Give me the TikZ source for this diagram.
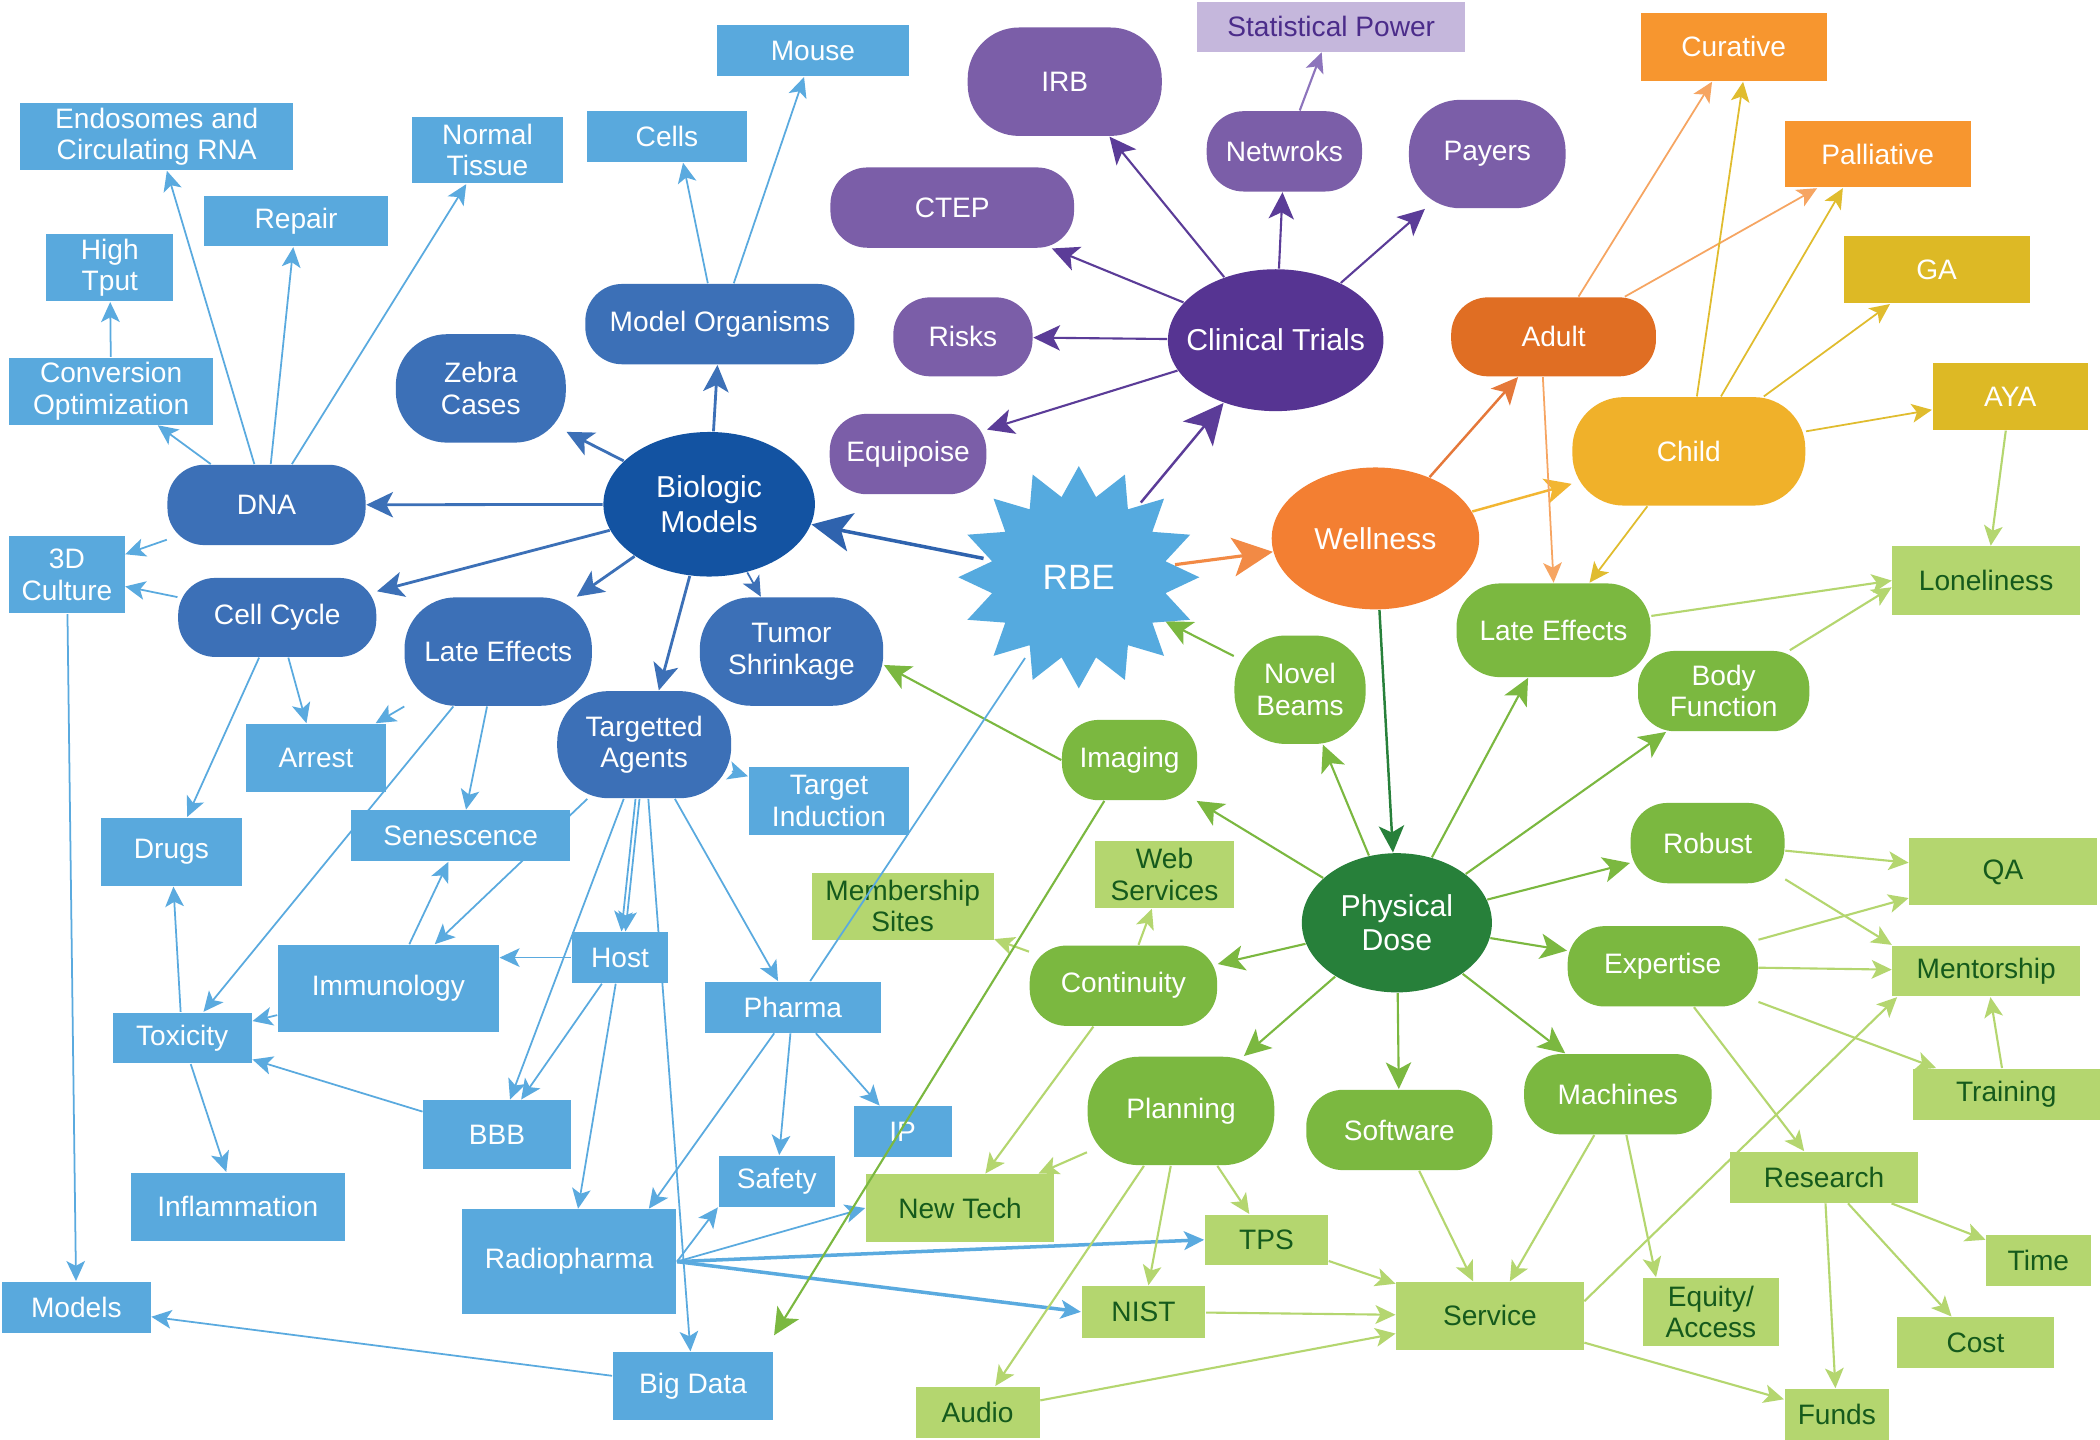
\documentclass[tikz,border=0pt]{standalone}
\usepackage{fontspec}
\setmainfont{Liberation Sans}
\usetikzlibrary{shapes.geometric, arrows.meta, calc}
\pgfdeclarelayer{bg}
\pgfsetlayers{bg,main}
\definecolor{lbfill}{HTML}{59A9DD}
\definecolor{lbline}{HTML}{5AAADF}
\definecolor{dbfill}{HTML}{3C70B7}
\definecolor{bmfill}{HTML}{1353A2}
\definecolor{dbline}{HTML}{3C70B7}
\definecolor{rbeline}{HTML}{2F63AE}
\definecolor{pufill}{HTML}{7B5EA8}
\definecolor{ctfill}{HTML}{563492}
\definecolor{puline}{HTML}{5B3C98}
\definecolor{spfill}{HTML}{C5B7DC}
\definecolor{sptext}{HTML}{4B2C8A}
\definecolor{spline}{HTML}{8D74BC}
\definecolor{wellfill}{HTML}{F37F32}
\definecolor{adultfill}{HTML}{E06E23}
\definecolor{childfill}{HTML}{F0B12A}
\definecolor{curfill}{HTML}{F7962F}
\definecolor{gafill}{HTML}{DDB925}
\definecolor{orline}{HTML}{F28A45}
\definecolor{wadline}{HTML}{E5783A}
\definecolor{adline}{HTML}{F6A562}
\definecolor{wchline}{HTML}{F2B632}
\definecolor{chline}{HTML}{E0BC2E}
\definecolor{grfill}{HTML}{7BB840}
\definecolor{pdfill}{HTML}{27803A}
\definecolor{grline}{HTML}{7BB840}
\definecolor{lgfill}{HTML}{B4D66F}
\definecolor{lgtext}{HTML}{155A1C}
\definecolor{lgline}{HTML}{B4D66F}
\definecolor{rbefill}{HTML}{55AADF}
\tikzset{
  sz/.style 2 args={minimum width=#1*0.381pt, minimum height=#2*0.381pt},
  nb/.style={inner sep=0pt, align=center, text=white, font=\fontsize{8}{9}\selectfont},
  rsix/.style={rounded corners=10.5pt},
  rseven/.style={rounded corners=12.4pt},
  reight/.style={rounded corners=14.6pt},
  lb/.style={nb, rectangle, fill=lbfill},
  db/.style={nb, rectangle, fill=dbfill, rsix},
  pu/.style={nb, rectangle, fill=pufill, rsix},
  gr/.style={nb, rectangle, fill=grfill, rsix},
  lg/.style={nb, rectangle, fill=lgfill, text=lgtext},
  orbox/.style={nb, rectangle},
  ell/.style={nb, ellipse, font=\fontsize{8.6}{9.8}\selectfont},
  tipS/.style={-{Stealth[length=5.7pt,width=5.3pt,inset=1.4pt]}},
  tipM/.style={-{Stealth[length=7.6pt,width=7.2pt,inset=1.9pt]}},
  tipL/.style={-{Stealth[length=11.4pt,width=11pt,inset=2.8pt]}},
  elb/.style={draw=lbline, line width=0.5pt, tipS},
  edb/.style={draw=dbline, line width=0.8pt, tipM},
  epu/.style={draw=puline, line width=0.6pt, tipM},
  egr/.style={draw=grline, line width=0.6pt, tipM},
  elg/.style={draw=lgline, line width=0.6pt, tipS},
  eyl/.style={draw=chline, line width=0.5pt, tipS},
  eor/.style={draw=adline, line width=0.5pt, tipS},
}
\begin{document}
\begin{tikzpicture}[x=0.013393cm, y=-0.013393cm]
\useasboundingbox (0,0) rectangle (1568,1075);
% ---------- RBE star ----------
\fill[rbefill, shift={(805.5,431)}] (0:90 and 83)
  \foreach \a in {0,22.5,...,337.5} { -- (\a:90 and 83) -- ({\a+11.25}:66 and 61) } -- cycle;
\node[nb, circle, minimum size=144*0.381pt, font=\fontsize{10}{12}\selectfont] (rbe) at (805.5,431) {RBE};
% ---------- light blue boxes ----------
\node[lb, sz={204}{50}] (endo) at (117,102) {Endosomes and\\Circulating RNA};
\node[lb, sz={113}{50}] (normal) at (364,112) {Normal\\Tissue};
\node[lb, sz={120}{38}] (cells) at (498,102) {Cells};
\node[lb, sz={144}{38}] (mouse) at (607,38) {Mouse};
\node[lb, sz={137}{38}] (repair) at (221,165) {Repair};
\node[lb, sz={95}{50}] (high) at (82,200) {High\\Tput};
\node[lb, sz={152}{50}] (conv) at (83,292) {Conversion\\Optimization};
\node[lb, sz={86}{58}] (culture) at (50,429) {3D\\Culture};
\node[lb, sz={105}{51}] (arrest) at (236,566) {Arrest};
\node[lb, sz={105}{51}] (drugs) at (128,636) {Drugs};
\node[lb, sz={164}{38}] (senes) at (344,624) {Senescence};
\node[lb, sz={165}{65}] (immuno) at (290,738) {Immunology};
\node[lb, sz={72}{38}] (host) at (463,715) {Host};
\node[lb, sz={104}{38}] (toxic) at (136,775) {Toxicity};
\node[lb, sz={120}{51}] (target) at (619,598) {Target\\Induction};
\node[lb, sz={132}{38}] (pharma) at (592,752) {Pharma};
\node[lb, sz={110}{51}] (bbb) at (371,847) {BBB};
\node[lb, sz={73}{38}] (ip) at (674,845) {IP};
\node[lb, sz={87}{38}] (safety) at (580,882) {Safety};
\node[lb, sz={160}{51}] (inflam) at (177.5,901) {Inflammation};
\node[lb, sz={160}{78}] (radio) at (425,942) {Radiopharma};
\node[lb, sz={111}{38}] (models) at (57,976) {Models};
\node[lb, sz={120}{51}] (bigdata) at (517.5,1035) {Big Data};
% ---------- dark blue ----------
\node[db, sz={148}{60}] (dna) at (199,377) {DNA};
\node[db, reight, sz={127}{81}] (zebra) at (359,290) {Zebra\\Cases};
\node[db, sz={201}{60}] (modorg) at (537.5,242) {Model Organisms};
\node[db, sz={148}{59}] (cellcyc) at (207,461) {Cell Cycle};
\node[db, reight, sz={140}{81}] (lateb) at (372,486.5) {Late Effects};
\node[db, reight, sz={130}{80}] (tagents) at (481,556) {Targetted\\Agents};
\node[db, reight, sz={137}{81}] (tumor) at (591,486.5) {Tumor\\Shrinkage};
\node[ell, fill=bmfill, sz={158}{108}] (biom) at (529.5,376.5) {Biologic\\Models};
% ---------- purple ----------
\node[pu, reight, sz={145}{81}] (irb) at (795,61) {IRB};
\node[pu, sz={182}{60}] (ctep) at (711,155) {CTEP};
\node[pu, sz={116}{60}] (netw) at (959,113) {Netwroks};
\node[pu, sz={104}{59}] (risks) at (719,251.5) {Risks};
\node[pu, sz={117}{60}] (equip) at (678,339) {Equipoise};
\node[pu, reight, sz={117}{81}] (payers) at (1110.5,115) {Payers};
\node[nb, rectangle, fill=spfill, text=sptext, sz={200}{37}] (stat) at (994,20) {Statistical Power};
\node[ell, fill=ctfill, sz={161}{106}] (clin) at (952.5,254) {\makebox[0pt]{Clinical Trials}};
% ---------- orange / yellow ----------
\node[ell, fill=wellfill, sz={155}{106}] (well) at (1027,402) {Wellness};
\node[nb, rectangle, rsix, fill=adultfill, sz={153}{59}] (adult) at (1160,251.5) {Adult};
\node[nb, rectangle, reight, fill=childfill, sz={174}{81}] (child) at (1261,337) {Child};
\node[orbox, fill=curfill, sz={139}{51}] (cur) at (1294.5,35) {Curative};
\node[orbox, fill=curfill, sz={139}{50}] (pall) at (1402,115) {Palliative};
\node[orbox, fill=gafill, sz={139}{50}] (ga) at (1446,201.5) {GA};
\node[orbox, fill=gafill, sz={116}{50}] (aya) at (1501,296) {AYA};
% ---------- green ----------
\node[gr, rseven, sz={145}{70}] (lateg) at (1160,470.6) {Late Effects};
\node[gr, sz={128}{60}] (body) at (1287,516) {Body\\Function};
\node[gr, sz={115}{60}] (robust) at (1275,629.5) {Robust};
\node[gr, sz={142}{60}] (expert) at (1241.5,721.5) {Expertise};
\node[gr, sz={140}{60}] (mach) at (1208,817) {Machines};
\node[gr, reight, sz={98}{81}] (novel) at (970.7,515) {Novel\\Beams};
\node[gr, sz={101}{60}] (imaging) at (843.4,567.5) {Imaging};
\node[gr, sz={140}{60}] (contin) at (838.8,736) {Continuity};
\node[gr, reight, sz={139.5}{81}] (plan) at (881.8,829.5) {Planning};
\node[gr, sz={139}{60}] (soft) at (1044.8,843.7) {Software};
\node[ell, fill=pdfill, sz={142}{104}] (pdose) at (1043,689) {Physical\\Dose};
% ---------- light green ----------
\node[lg, sz={140}{51}] (lonely) at (1483,433.5) {Loneliness};
\node[lg, sz={140}{50}] (qa) at (1495.6,651) {QA};
\node[lg, sz={140}{38}] (mentor) at (1483,725) {Mentorship};
\node[lg, sz={140}{38}] (train) at (1498,817) {Training};
\node[lg, sz={140}{38}] (research) at (1362,879) {Research};
\node[lg, sz={78}{38}] (time) at (1522,941) {Time};
\node[lg, sz={117.5}{38}] (cost) at (1475,1002.5) {Cost};
\node[lg, sz={78}{38}] (funds) at (1371.5,1056) {Funds};
\node[lg, sz={101}{51}] (equity) at (1277.5,979.6) {Equity/\\Access};
\node[lg, sz={140}{50.5}] (service) at (1112.5,982.5) {Service};
\node[lg, sz={92}{37.5}] (tps) at (945.6,925.7) {TPS};
\node[lg, sz={92.5}{38.5}] (nist) at (853.8,979.5) {NIST};
\node[lg, sz={140.6}{50.5}] (newtech) at (716.8,902) {New Tech};
\node[lg, sz={92.5}{38}] (audio) at (730,1054.4) {Audio};
\node[lg, sz={135.7}{50}] (member) at (674,676.5) {Membership\\Sites};
\node[lg, sz={103.3}{50}] (web) at (869.5,653) {Web\\Services};
% ================= connectors =================
\begin{pgfonlayer}{bg}
\fill[white] (0,0) rectangle (1568,1075);
% light blue
\draw[elb] (dna) -- (endo);
\draw[elb] (dna) -- (repair);
\draw[elb] (dna) -- (normal);
\draw[elb] (dna) -- (conv);
\draw[elb] (dna) -- (culture);
\draw[elb] (conv) -- (high);
\draw[elb] ($(modorg.north)+(-9,0)$) -- ($(cells.south)+(12,0)$);
\draw[elb] (modorg) -- (mouse);
\draw[elb] (cellcyc) -- (culture);
\draw[elb] (cellcyc) -- (arrest);
\draw[elb] (cellcyc) -- (drugs);
\draw[elb] (lateb) -- (arrest);
\draw[elb] (lateb) -- (senes);
\draw[elb] (lateb) -- (toxic);
\draw[elb] (tagents) -- (immuno);
\draw[elb] (immuno) -- (senes);
\draw[elb] (host) -- (host -| immuno.east);
\draw[elb] (immuno) -- (toxic);
\draw[elb] (toxic) -- (drugs);
\draw[elb] (toxic) -- (inflam);
\draw[elb] (bbb) -- (toxic);
\draw[elb] (culture) -- (models);
\draw[elb] (bigdata) -- (models);
\draw[elb] ($(tagents.south)+(-6.5,0)$) -- ($(host.north)+(1,0)$);
\draw[elb] ($(tagents.south)+(-3.5,0)$) -- ($(host.north)+(4,0)$);
\draw[elb] (tagents) -- (bbb);
\draw[elb] (tagents) -- (bigdata);
\draw[elb] (tagents) -- (pharma);
\draw[elb] (tagents) -- (target);
\draw[elb] (host) -- (bbb);
\draw[elb] (host) -- (radio);
\draw[elb] (pharma) -- ($(radio.north east)+(-21,0)$);
\draw[elb] (pharma) -- (safety);
\draw[elb] (pharma) -- (ip);
\draw[elb] (radio.east) -- (safety.south west);
\draw[elb] (radio.east) -- (newtech.west);
\draw[elb, line width=1pt] (radio.east) -- (tps.west);
\draw[elb, line width=1pt] (radio.east) -- (nist.west);
% dark blue from Biologic Models
\draw[edb] (biom) -- (dna);
\draw[edb] (biom) -- (zebra);
\draw[edb] (biom) -- (modorg);
\draw[edb] (biom) -- (cellcyc);
\draw[edb] (biom) -- (lateb);
\draw[edb] (biom) -- (tagents);
\draw[edb, line width=0.5pt, tipS] (biom) -- (tumor);
\draw[draw=rbeline, line width=1pt, tipL] (rbe) -- (biom);
% purple
\draw[epu] (clin) -- (irb);
\draw[epu] (clin) -- (netw);
\draw[draw=spline, line width=0.6pt, tipS] (netw) -- (stat);
\draw[epu] (clin) -- (payers);
\draw[epu] (clin) -- (ctep);
\draw[epu] (clin) -- (risks);
\draw[epu] (clin) -- (equip);
\draw[draw=puline, line width=0.7pt, tipL] (rbe) -- (clin);
% orange / yellow
\draw[draw=orline, line width=0.9pt, tipL] (rbe) -- (well);
\draw[draw=wadline, line width=0.7pt, tipM] (well) -- (adult);
\draw[draw=wchline, line width=0.7pt, tipM] (well) -- (child);
\draw[eor] (adult) -- (cur);
\draw[eor] (adult) -- (pall);
\draw[eor] ($(adult.south)+(-8,0)$) -- (lateg.north);
\draw[eyl] (child) -- ($(cur.south)+(7,0)$);
\draw[eyl] (child) -- ($(pall.south)+(-26,0)$);
\draw[eyl] (child) -- (ga);
\draw[eyl] (child) -- (aya);
\draw[eyl] (child) -- (lateg);
% green
\draw[draw=pdfill, line width=0.7pt, tipM] (well) -- (pdose);
\draw[egr] (pdose) -- (novel);
\draw[egr] (pdose) -- (imaging);
\draw[egr] (pdose) -- (lateg);
\draw[egr] (pdose) -- (body);
\draw[egr] (pdose) -- (robust);
\draw[egr] (pdose) -- (expert);
\draw[egr] (pdose) -- (mach);
\draw[egr] (pdose) -- (soft);
\draw[egr] (pdose) -- (plan);
\draw[egr] (pdose) -- (contin);
\draw[egr] (novel) -- (rbe);
\draw[egr] (imaging.west) -- ($(tumor.east)+(0,10)$);
% light green
\draw[elg] (lateg) -- (lonely.west);
\draw[elg] (body) -- ($(lonely.west)+(0,5)$);
\draw[elg] (aya) -- (lonely);
\draw[elg] (robust) -- (qa);
\draw[elg] (robust.-25) -- (mentor.north west);
\draw[elg] (expert) -- (qa);
\draw[elg] (expert) -- (mentor);
\draw[elg] (expert) -- (train);
\draw[elg] (expert) -- (research);
\draw[elg] (train) -- (mentor);
\draw[elg] ($(service.east)+(0,-11)$) -- ($(mentor.south west)+(4,0)$);
\draw[elg] (research) -- (time);
\draw[elg] (research) -- (cost);
\draw[elg] (research) -- (funds);
\draw[elg] (service) -- (funds);
\draw[elg] (mach) -- (service);
\draw[elg] (mach) -- ($(equity.north west)+(10,0)$);
\draw[elg] (soft) -- (service);
\draw[elg] (tps) -- (service);
\draw[elg] (nist) -- (service);
\draw[elg] (audio) -- (service);
\draw[elg] (plan) -- (tps);
\draw[elg] (plan) -- (nist);
\draw[elg] (plan) -- (audio);
\draw[elg] (plan) -- (newtech);
\draw[elg] (contin) -- (newtech);
\draw[elg] (contin) -- (member);
\draw[elg] (contin) -- (web);
\end{pgfonlayer}
% connectors drawn over the boxes
\draw[draw=lbline, line width=0.5pt] (pharma) -- (rbe);
\draw[draw=grline, line width=0.6pt, tipM] (imaging) -- ($(bigdata.north east)+(0,-12)$);
\end{tikzpicture}
\end{document}
